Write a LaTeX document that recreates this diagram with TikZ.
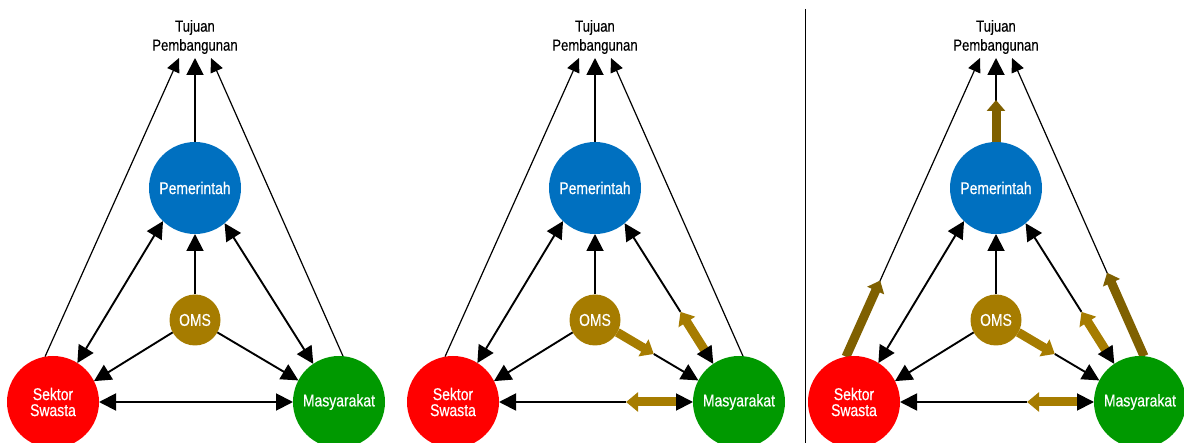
\documentclass[tikz,border=0pt]{standalone}
\usepackage{fontspec}
\setmainfont{Liberation Sans}[FakeStretch=0.82,FakeBold=0.4]
\usetikzlibrary{arrows.meta,calc,backgrounds}
\definecolor{govblue}{RGB}{0,112,192}
\definecolor{pvtred}{RGB}{255,0,0}
\definecolor{comgreen}{RGB}{0,153,0}
\definecolor{omsgold}{RGB}{166,124,0}
\definecolor{darkgold}{RGB}{127,96,0}
\tikzset{
  actor/.style={circle, inner sep=0pt, outer sep=0pt, minimum size=92pt, text=white,
    font=\fontsize{17}{17}\selectfont, align=center},
  omsnode/.style={actor, minimum size=51pt, fill=omsgold},
  goal/.style={inner sep=0pt, align=center, font=\fontsize{16}{19}\selectfont},
  thinarr/.style={line width=1.2pt, -{Triangle[length=14pt,width=13pt]}},
  medline/.style={line width=1.9pt},
  btip/.tip={Triangle[length=17pt,width=17pt]},
  goldarr/.style={draw=omsgold, line width=9pt, -{Triangle[length=12pt,width=19pt]}},
  darkarr/.style={draw=darkgold, line width=9pt, -{Triangle[length=11pt,width=18pt]}},
  sepline/.style={line width=1pt},
}
% #1 x offset, #2 name prefix
\newcommand\basepanel[2]{%
  \node[goal] (#2T) at (#1+195,37) {Tujuan\\Pembangunan};
  \coordinate (#2tl) at (#1+179,58);
  \coordinate (#2tm) at (#1+195,58);
  \coordinate (#2tr) at (#1+211,58);
  \node[actor, fill=govblue] (#2G) at (#1+195,188) {Pemerintah};
  \node[omsnode] (#2O) at (#1+195,320) {OMS};
  \node[actor, fill=pvtred] (#2S) at (#1+53,402) {Sektor\\[-1pt]Swasta};
  \node[actor, fill=comgreen] (#2M) at (#1+339,402) {Masyarakat};
  \begin{pgfonlayer}{background}
  \draw[thinarr] (#2S.100) -- (#2tl);
  \draw[thinarr] (#2M.85) -- (#2tr);
  \draw[medline, -btip] (#2G.north) -- (#2tm);
  \draw[medline, -btip] (#2O.north) -- (#2G.south);
  \draw[medline, btip-btip] (#2G.226) -- (#2S.58);
  \draw[medline, -btip] (#2O.209) -- (#2S.27);
  \end{pgfonlayer}
}
\newcommand\plainlinks[1]{%
  \begin{pgfonlayer}{background}
  \draw[medline, btip-btip] (#1G.310) -- (#1M.124);
  \draw[medline, -btip] (#1O.331) -- (#1M.152);
  \draw[medline, btip-btip] (#1S.east) -- (#1M.west);
  \end{pgfonlayer}
}
\newcommand\goldlinks[1]{%
  \coordinate (#1k1) at ($(#1G.310)!0.63!(#1M.124)$);
  \coordinate (#1k2) at ($(#1G.310)!0.905!(#1M.124)$);
  \coordinate (#1k3) at ($(#1S.east)!0.655!(#1M.west)$);
  \coordinate (#1k4) at ($(#1S.east)!0.915!(#1M.west)$);
  \coordinate (#1k5) at ($(#1O.331)!0.45!(#1M.152)$);
  \begin{pgfonlayer}{background}
  \draw[medline, btip-] (#1G.310) -- (#1k1);
  \draw[goldarr] (#1k2) -- (#1k1);
  \draw[medline, -btip] (#1k2) -- (#1M.124);
  \draw[medline, btip-] (#1S.east) -- (#1k3);
  \draw[goldarr] (#1k4) -- (#1k3);
  \draw[medline, -btip] (#1k4) -- (#1M.west);
  \draw[goldarr] (#1O.331) -- (#1k5);
  \draw[medline, -btip] (#1k5) -- (#1M.152);
  \end{pgfonlayer}
}
\newcommand\goalgold[1]{%
  \begin{pgfonlayer}{background}
  \draw[darkarr] (#1S.100) -- ($(#1S.100)!0.255!(#1tl)$);
  \draw[darkarr] (#1M.85) -- ($(#1M.85)!0.28!(#1tr)$);
  \draw[darkarr] (#1G.north) -- ($(#1G.north)!0.5!(#1tm)$);
  \end{pgfonlayer}
}
\begin{document}
\begin{tikzpicture}[x=1pt, y=-1pt]
  \useasboundingbox (0,0) rectangle (1184,443);
  \clip (0,0) rectangle (1184,443);
  \basepanel{0}{a}
  \plainlinks{a}
  \basepanel{400}{b}
  \goldlinks{b}
  \basepanel{801}{c}
  \goldlinks{c}
  \goalgold{c}
  \coordinate (septop) at (805,9);
  \coordinate (sepbot) at (805,443);
  \draw[sepline] (septop) -- (sepbot);
\end{tikzpicture}
\end{document}
